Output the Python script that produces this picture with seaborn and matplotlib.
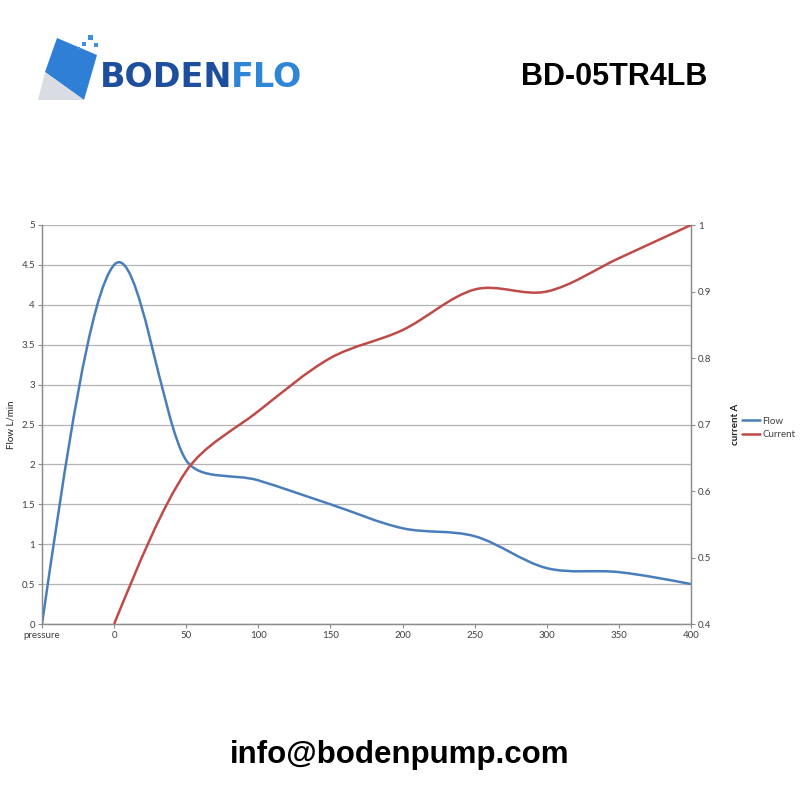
import numpy as np
import matplotlib
matplotlib.use("Agg")
import matplotlib.pyplot as plt
from matplotlib.path import Path
from matplotlib.patches import PathPatch, Polygon, Rectangle
from matplotlib.lines import Line2D
import seaborn as sns

# data
categories = ["pressure", "0", "50", "100", "150", "200", "250", "300", "350", "400"]
flow = [0, 4.5, 2.05, 1.8, 1.5, 1.2, 1.1, 0.7, 0.65, 0.5]
current_cats = categories[1:]
current = [0.4, 0.63, 0.72, 0.80, 0.842, 0.903, 0.90, 0.95, 1.0]
flow_ticks = [0, 0.5, 1, 1.5, 2, 2.5, 3, 3.5, 4, 4.5, 5]
current_ticks = [0.4, 0.5, 0.6, 0.7, 0.8, 0.9, 1.0]

BLUE = "#4a7ebb"
RED = "#be4b48"

sns.set_theme(style="white")
plt.rcParams["font.family"] = ["Lato", "DejaVu Sans"]


def smooth_path(axis, xs, ys, k=1 / 3):
    # smoothed line like excel: bezier segments through the data points
    pts = axis.transData.transform(np.column_stack([xs, ys]).astype(float))
    n = len(pts)
    left = [None] * n
    right = [None] * n
    for i in range(1, n - 1):
        d = (pts[i + 1] - pts[i - 1]) / 6
        dl = np.hypot(*d)
        ll = np.hypot(*(pts[i] - pts[i - 1]))
        lr = np.hypot(*(pts[i + 1] - pts[i]))
        left[i] = pts[i] - d * min(1, k * ll / dl) if dl > 0 else pts[i]
        right[i] = pts[i] + d * min(1, k * lr / dl) if dl > 0 else pts[i]
    right[0] = (pts[0] + left[1]) / 2
    left[n - 1] = (pts[n - 1] + right[n - 2]) / 2
    verts = [pts[0]]
    codes = [Path.MOVETO]
    for i in range(n - 1):
        verts += [right[i], left[i + 1], pts[i + 1]]
        codes += [Path.CURVE4] * 3
    verts = axis.transData.inverted().transform(np.array(verts))
    return Path(verts, codes)


fig = plt.figure(figsize=(8, 8), dpi=100)
ax = fig.add_axes([42 / 800, 1 - 624 / 800, (691 - 42) / 800, (624 - 225) / 800])
ax2 = ax.twinx()

ax.set_xlim(0, len(categories) - 1)
ax.set_ylim(0, 5)
ax2.set_ylim(0.4, 1.0)

xpos = [categories.index(c) for c in categories]
xpos_cur = [categories.index(c) for c in current_cats]

ax.add_patch(PathPatch(smooth_path(ax, xpos, flow), fill=False, edgecolor=BLUE, lw=1.8, zorder=3))
ax2.add_patch(PathPatch(smooth_path(ax2, xpos_cur, current), fill=False, edgecolor=RED, lw=1.8, zorder=3))

ax.set_xticks(xpos)
ax.set_xticklabels(categories)
ax.set_yticks(flow_ticks)
ax.set_yticklabels([f"{v:g}" for v in flow_ticks])
ax2.set_yticks(current_ticks)
ax2.set_yticklabels([f"{v:g}" for v in current_ticks])

ax.yaxis.grid(True, color="#b4b4b4", lw=0.9)
ax.set_axisbelow(True)
for a in (ax, ax2):
    a.spines["top"].set_visible(False)
    for s in ("left", "right", "bottom"):
        a.spines[s].set_color("#8c8c8c")
        a.spines[s].set_linewidth(0.9)
    a.tick_params(length=3, width=0.8, color="#8c8c8c", labelsize=7, labelcolor="#404040", pad=2)
ax.tick_params(axis="x", direction="out", bottom=True)
ax.tick_params(axis="y", direction="out", left=True)
ax2.tick_params(axis="y", direction="out", right=True)

ax.set_ylabel("Flow L/min", fontsize=7, color="#202020", labelpad=4)
ax2.set_ylabel("current A", fontsize=7, color="#202020", fontweight="bold", labelpad=14)

handles = [Line2D([], [], color=BLUE, lw=1.8), Line2D([], [], color=RED, lw=1.8)]
fig.legend(handles, ["Flow", "Current"], loc="center left",
           bbox_to_anchor=(740 / 800, 1 - 428 / 800), frameon=False,
           fontsize=7, handlelength=1.9, handletextpad=0.2, labelspacing=0.5,
           labelcolor="#404040", borderaxespad=0, borderpad=0.2)

# header: logo and model
fig.patches.append(Polygon([(45 / 800, 1 - 72 / 800), (57 / 800, 1 - 38 / 800),
                            (97 / 800, 1 - 55 / 800), (84 / 800, 1 - 100 / 800)],
                           closed=True, transform=fig.transFigure, facecolor="#2f7fd6",
                           edgecolor="none"))
fig.patches.append(Polygon([(45 / 800, 1 - 72 / 800), (84 / 800, 1 - 100 / 800),
                            (38 / 800, 1 - 100 / 800)],
                           closed=True, transform=fig.transFigure, facecolor="#d9dde3",
                           edgecolor="none"))
for (sx, sy, sz) in [(88, 40, 5), (82, 46, 4), (94, 47, 4), (77, 50, 3)]:
    fig.patches.append(Rectangle((sx / 800, 1 - sy / 800), sz / 800, sz / 800,
                                 transform=fig.transFigure, facecolor="#3d8fe0",
                                 edgecolor="none"))
t1 = fig.text(100 / 800, 1 - 87 / 800, "BODEN", fontsize=24, fontweight="bold",
              color="#1d4f9e", family="DejaVu Sans", va="baseline")
fig.add_artist(matplotlib.text.Annotation(
    "FLO", xy=(1, 0), xycoords=t1, xytext=(-1, 0), textcoords="offset points",
    fontsize=24, fontweight="bold", color="#2e86d6", family="DejaVu Sans",
    va="bottom", ha="left"))
fig.text(614 / 800, 1 - 85 / 800, "BD-05TR4LB", fontsize=22, fontweight="bold",
         color="black", family="Liberation Sans", ha="center", va="baseline")
fig.text(400 / 800, 1 - 763 / 800, "info@bodenpump.com", fontsize=22.5, fontweight="bold",
         color="black", family="Liberation Sans", ha="center", va="baseline")

fig.savefig("out.png", dpi=100, facecolor="white")
